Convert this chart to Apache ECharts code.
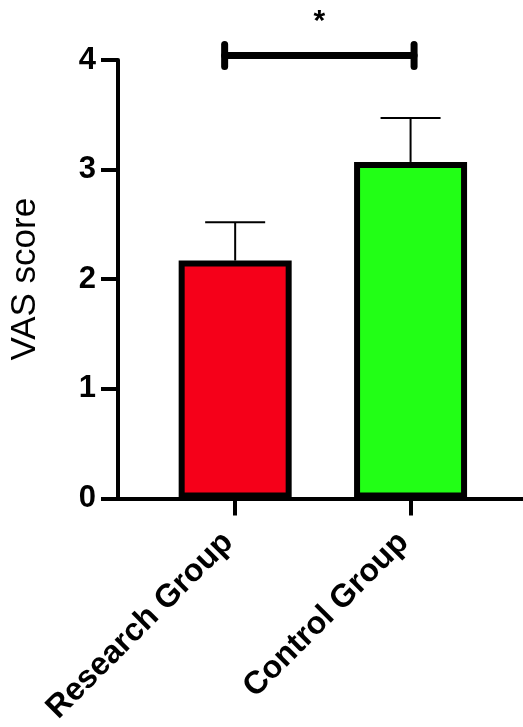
<!DOCTYPE html>
<html>
<head>
<meta charset="utf-8">
<script src="https://cdn.jsdelivr.net/npm/echarts@6/dist/echarts.min.js"></script>
<style>
  html, body { margin: 0; padding: 0; background: #fff; }
  #main { width: 523px; height: 727px; }
</style>
</head>
<body>
<div id="main"></div>
<script>
// data
const groups = ['Research Group', 'Control Group'];
const groupPos = [1, 2];
const means = [2.17, 3.07];
const upperErr = [2.52, 3.47];
const barColors = ['#f50019', '#22ff16'];
const yTicks = [0, 1, 2, 3, 4];
// significance bracket: x range (in group position units) and height
const sigX = [0.94, 2.02];
const sigY = 4.04;
const sigText = '*';

const FONT = 'Liberation Sans, Arial, Helvetica, sans-serif';

const chartDom = document.getElementById('main');
const myChart = echarts.init(chartDom, null, { renderer: 'canvas' });

const barData = means.map((m, i) => ({
  value: [groupPos[i], m],
  itemStyle: { color: barColors[i] }
}));
const errData = means.map((m, i) => [groupPos[i], m, upperErr[i]]);

let option = {
  backgroundColor: '#fff',
  animation: false,
  grid: { left: 105, right: 0, top: 60, bottom: 227 },
  xAxis: {
    type: 'value',
    min: 0.332,
    max: 2.641,
    splitLine: { show: false },
    axisLine: { show: true, onZero: false, lineStyle: { color: '#000', width: 4 } },
    axisTick: { show: true, customValues: groupPos, length: 17, lineStyle: { color: '#000', width: 4 } },
    axisLabel: {
      customValues: groupPos,
      rotate: 45,
      margin: 32,
      padding: [0, 10, 0, 0],
      color: '#000',
      fontFamily: FONT,
      fontWeight: 'bold',
      fontSize: 32,
      formatter: v => groups[groupPos.indexOf(v)] || ''
    }
  },
  yAxis: {
    type: 'value',
    min: 0,
    max: 4,
    interval: 1,
    name: 'VAS score',
    nameLocation: 'middle',
    nameGap: 75,
    nameTextStyle: { color: '#000', fontFamily: FONT, fontSize: 35 },
    splitLine: { show: false },
    axisLine: { show: true, lineStyle: { color: '#000', width: 4 } },
    axisTick: { show: true, length: 17, lineStyle: { color: '#000', width: 4 } },
    axisLabel: {
      margin: 22,
      color: '#000',
      fontFamily: FONT,
      fontWeight: 'bold',
      fontSize: 31,
      formatter: v => (yTicks.includes(v) ? String(v) : '')
    }
  },
  series: [
    {
      type: 'custom',
      name: 'error',
      z: 1,
      data: errData,
      renderItem: function (params, api) {
        const top = api.coord([api.value(0), api.value(2)]);
        const base = api.coord([api.value(0), api.value(1)]);
        const half = 30;
        return {
          type: 'group',
          children: [
            { type: 'line', shape: { x1: base[0], y1: base[1], x2: top[0], y2: top[1] }, style: { stroke: '#000', lineWidth: 2 } },
            { type: 'line', shape: { x1: top[0] - half, y1: top[1], x2: top[0] + half, y2: top[1] }, style: { stroke: '#000', lineWidth: 2 } }
          ]
        };
      }
    },
    {
      type: 'bar',
      name: 'VAS',
      z: 2,
      barWidth: 113,
      data: barData,
      itemStyle: { borderColor: '#000', borderWidth: 6 }
    },
    {
      type: 'custom',
      name: 'sig',
      clip: false,
      z: 3,
      data: [[sigX[0], sigX[1], sigY]],
      renderItem: function (params, api) {
        const a = api.coord([api.value(0), api.value(2)]);
        const b = api.coord([api.value(1), api.value(2)]);
        const capH = 11;
        const st = { stroke: '#000', lineWidth: 7, lineCap: 'round' };
        return {
          type: 'group',
          children: [
            { type: 'line', shape: { x1: a[0], y1: a[1], x2: b[0], y2: b[1] }, style: st },
            { type: 'line', shape: { x1: a[0], y1: a[1] - capH, x2: a[0], y2: a[1] + capH }, style: st },
            { type: 'line', shape: { x1: b[0], y1: b[1] - capH, x2: b[0], y2: b[1] + capH }, style: st },
            {
              type: 'text',
              style: {
                text: sigText,
                x: (a[0] + b[0]) / 2,
                y: a[1] - 34,
                align: 'center',
                verticalAlign: 'middle',
                fill: '#000',
                font: 'bold 30px ' + FONT
              }
            }
          ]
        };
      }
    }
  ]
};

myChart.setOption(option);
</script>
</body>
</html>
